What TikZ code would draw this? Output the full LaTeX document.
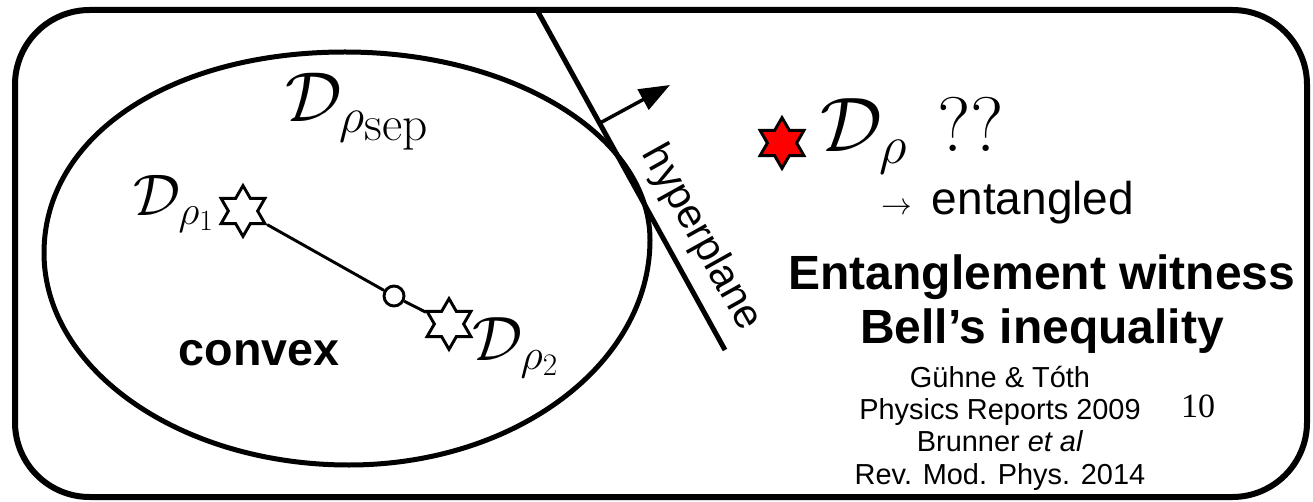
\RequirePackage{fix-cm}
\documentclass[tikz,border=0pt]{standalone}
\usepackage[no-math]{fontspec}
\newfontfamily\arial{Liberation Sans}
\newfontfamily\tnr{Liberation Serif}
\usetikzlibrary{shapes.geometric,arrows.meta,calc}
\begin{document}
\begin{tikzpicture}[x=0.75pt,y=-0.75pt,
  frame/.style={line width=4.5pt,rounded corners=56pt},
  setline/.style={line width=3.75pt},
  hyper/.style={line width=3.75pt},
  normarrow/.style={line width=2.6pt,-{Triangle[length=23pt,width=17pt]}},
  hexstar/.style={star,star points=6,star point ratio=1.73,minimum size=38pt,inner sep=0pt,draw,line width=2.2pt,fill=white},
  midpt/.style={circle,draw,fill=white,minimum size=15pt,inner sep=0pt,line width=2.2pt},
  segline/.style={line width=2.2pt},
  lbl/.style={inner sep=0pt,anchor=base west},
  txt/.style={inner sep=0pt,anchor=base,font=\arial},
]
\useasboundingbox (0,0) rectangle (1313,502);
% outer frame
\draw[frame] (15,10) rectangle (1307,497);
% separable set
\draw[setline] (44,253) .. controls (44,136) and (170,52) .. (345,52)
  .. controls (513,52) and (650,136) .. (650,240)
  .. controls (650,364) and (515,465) .. (349,465)
  .. controls (181,465) and (44,370) .. cycle;
% hyperplane
\coordinate (hpA) at (537,10);
\coordinate (hpB) at (725,350);
\draw[hyper] (hpA) -- (hpB);
\coordinate (arS) at ($(hpA)!0.333!(hpB)$);
\coordinate (arE) at (670,85);
\draw[normarrow] (arS) -- (arE);
\node[inner sep=0pt,rotate=-60.8,font=\arial\fontsize{31pt}{31pt}\selectfont] (hyp) at (701,238) {hyperplane};
% stars and mixture
\node[hexstar] (s1) at (243,211) {};
\node[hexstar] (s2) at (449,324) {};
\node[midpt] (mix) at (394,296) {};
\draw[segline] (s1) -- (mix);
\draw[segline] (mix) -- (s2);
\node[hexstar,fill=red] (sr) at (782,143) {};
% math labels
\node[lbl] (dsep) at (285,122) {\fontsize{53pt}{53pt}\selectfont$\mathcal{D}_{\rho_{\scriptstyle\mathrm{sep}}}$};
\node[lbl] (d1) at (133,216) {\fontsize{44pt}{44pt}\selectfont$\mathcal{D}_{\rho_1}$};
\node[lbl] (d2) at (472,360) {\fontsize{47pt}{47pt}\selectfont$\mathcal{D}_{\rho_2}$};
\node[lbl] (drho) at (820,152) {\fontsize{58pt}{58pt}\selectfont$\mathcal{D}_\rho$\hspace{22pt}$\mathrm{??}$};
% texts
\node[txt,font=\arial\bfseries\fontsize{35pt}{35pt}\selectfont] (cvx) at (259,365) {convex};
\node[lbl] (ent) at (881,215) {\fontsize{23pt}{23pt}\selectfont$\rightarrow$\hspace{15pt}\arial\fontsize{34.5pt}{34.5pt}\selectfont entangled};
\node[txt,font=\arial\bfseries\fontsize{36pt}{36pt}\selectfont] (ew) at (1042,290) {Entanglement witness};
\node[txt,font=\arial\bfseries\fontsize{36pt}{36pt}\selectfont] (bell) at (1042,343) {Bell’s inequality};
\node[txt,font=\arial\fontsize{21.7pt}{21.7pt}\selectfont] (r1) at (1000,387) {Gühne \& Tóth};
\node[txt,font=\arial\fontsize{21.7pt}{21.7pt}\selectfont] (r2) at (1000,419) {Physics Reports 2009};
\node[txt,font=\arial\fontsize{21.7pt}{21.7pt}\selectfont] (r3) at (1000,451) {Brunner \textit{et al}};
\node[txt,font=\arial\fontsize{21.7pt}{21.7pt}\selectfont] (r4) at (1000,484) {Rev. Mod. Phys. 2014};
\node[txt,font=\tnr\fontsize{25.5pt}{25.5pt}\selectfont] (pg) at (1198,417) {10};
\end{tikzpicture}
\end{document}
